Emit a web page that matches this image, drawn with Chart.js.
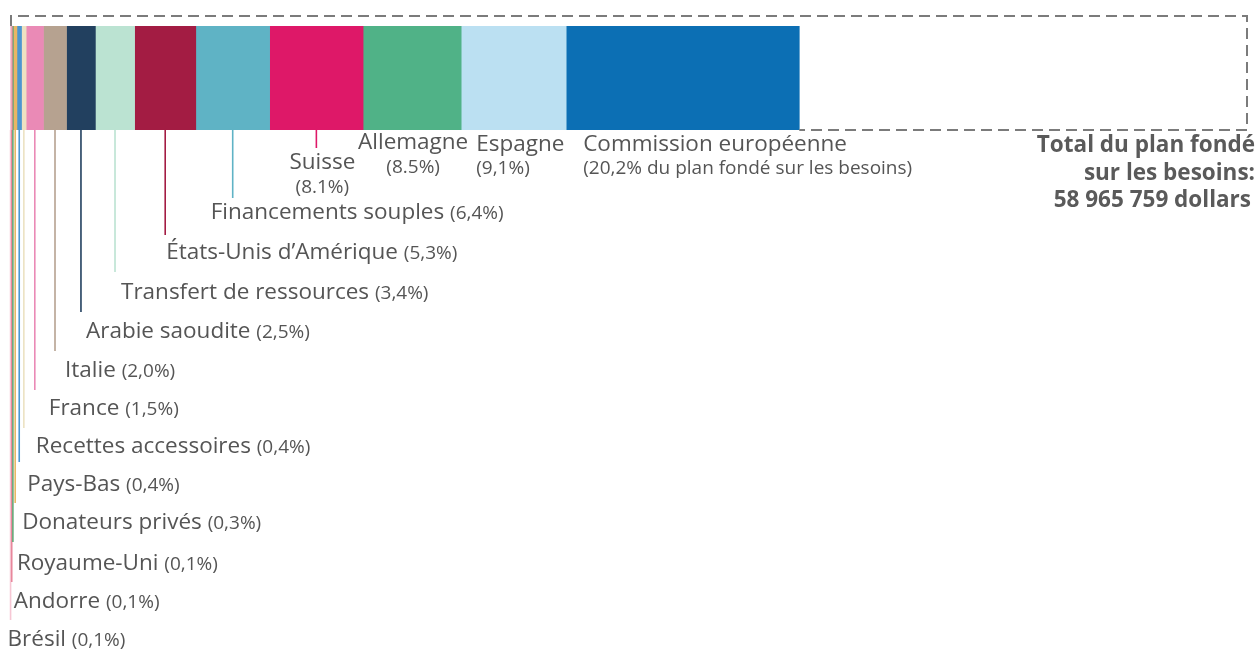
<!DOCTYPE html>
<html lang="fr">
<head>
  <meta charset="UTF-8" />
  <title>Plan fondé sur les besoins – contributions</title>
  <script src="https://cdn.jsdelivr.net/npm/chart.js"></script>
  <style>
    body {
      margin: 0;
      background-color: #fff;
      font-family: "Open Sans", sans-serif;
    }

    #wrap {
      width: 1259px;
      height: 651px;
      position: relative;
    }
  </style>
</head>
<body>
  <div id="wrap"><canvas id="myChart"></canvas></div>

  <script>
    // donors, left to right along the bar
    const donors = [
      'Brésil', 'Andorre', 'Royaume-Uni', 'Donateurs privés', 'Pays-Bas',
      'Recettes accessoires', 'France', 'Italie', 'Arabie saoudite',
      'Transfert de ressources', 'États-Unis d’Amérique', 'Financements souples',
      'Suisse', 'Allemagne', 'Espagne', 'Commission européenne'
    ];
    // share of the needs-based plan (%)
    const shares = [0.1, 0.1, 0.1, 0.3, 0.4, 0.4, 1.5, 2.0, 2.5, 3.4, 5.3, 6.4, 8.1, 8.5, 9.1, 20.2];
    const shareText = [
      '(0,1%)', '(0,1%)', '(0,1%)', '(0,3%)', '(0,4%)', '(0,4%)', '(1,5%)', '(2,0%)',
      '(2,5%)', '(3,4%)', '(5,3%)', '(6,4%)', '(8.1%)', '(8.5%)', '(9,1%)',
      '(20,2% du plan fondé sur les besoins)'
    ];
    const totalText = ['Total du plan fondé', 'sur les besoins:', '58 965 759 dollars'];

    const colors = [
      '#f6c7d4', '#e8879c', '#63a877', '#e9b764', '#4b96d0', '#ece2c2',
      '#ea8ab6', '#b6a290', '#22405f', '#bbe3d2', '#a31c43', '#5fb3c5',
      '#de1868', '#50b287', '#bbe0f2', '#0c6fb4'
    ];

    // label placement: 'step' = leader line down to a one-line label,
    // 'pin' = short line + two centred lines, 'center'/'left' = two lines under the bar
    const place = [
      { kind: 'step', lineEnd: 620, dx: -3, y: 640 },
      { kind: 'step', lineEnd: 582, dx: 2, y: 602 },
      { kind: 'step', lineEnd: 542, dx: 4, y: 564 },
      { kind: 'step', lineEnd: 503, dx: 7, y: 523 },
      { kind: 'step', lineEnd: 462, dx: 8, y: 485 },
      { kind: 'step', lineEnd: 428, dx: 12, y: 447 },
      { kind: 'step', lineEnd: 390, dx: 14, y: 409 },
      { kind: 'step', lineEnd: 351, dx: 10, y: 371 },
      { kind: 'step', lineEnd: 312, dx: 5, y: 332 },
      { kind: 'step', lineEnd: 272, dx: 6, y: 293 },
      { kind: 'step', lineEnd: 235, dx: 1, y: 253 },
      { kind: 'step', lineEnd: 198, dx: -22, y: 213 },
      { kind: 'pin', lineEnd: 148, dx: 6, y: 163 },
      { kind: 'center', dx: 1, y: 143 },
      { kind: 'left', dx: 15, y: 145 },
      { kind: 'left', dx: 17, y: 145 }
    ];

    const textColor = '#555';
    const font = 'Open Sans, sans-serif';
    const nameFont = '22.5px ' + font;
    const pctFont = '19px ' + font;

    const labelPlugin = {
      id: 'labels',
      afterDatasetsDraw(chart) {
        const ctx = chart.ctx;
        const area = chart.chartArea;
        const barBottom = area.bottom;
        ctx.save();

        // dashed outline = whole needs-based plan
        const lastBar = chart.getDatasetMeta(shares.length - 1).data[0];
        ctx.strokeStyle = '#7b7b7b';
        ctx.lineWidth = 2;
        ctx.setLineDash([11, 6]);
        ctx.beginPath();
        ctx.moveTo(area.left + 1, area.top);
        ctx.lineTo(area.left + 1, area.top - 10);
        ctx.lineTo(area.right, area.top - 10);
        ctx.lineTo(area.right, barBottom);
        ctx.lineTo(lastBar.x, barBottom);
        ctx.stroke();
        ctx.setLineDash([]);

        shares.forEach((v, i) => {
          const el = chart.getDatasetMeta(i).data[0];
          const left = Math.min(el.base, el.x);
          const mid = (el.base + el.x) / 2;
          const p = place[i];
          ctx.fillStyle = textColor;
          ctx.textBaseline = 'middle';

          if (p.kind === 'step' || p.kind === 'pin') {
            ctx.strokeStyle = colors[i];
            ctx.lineWidth = 1.6;
            ctx.beginPath();
            ctx.moveTo(mid, barBottom);
            ctx.lineTo(mid, p.lineEnd);
            ctx.stroke();
          }

          if (p.kind === 'step') {
            const x = mid + p.dx;
            ctx.textAlign = 'left';
            ctx.font = nameFont;
            ctx.fillText(donors[i], x, p.y);
            const w = ctx.measureText(donors[i] + ' ').width;
            ctx.font = pctFont;
            ctx.fillText(shareText[i], x + w, p.y + 1);
          } else if (p.kind === 'pin' || p.kind === 'center') {
            const x = mid + p.dx;
            ctx.textAlign = 'center';
            ctx.font = nameFont;
            ctx.fillText(donors[i], x, p.y);
            ctx.font = pctFont;
            ctx.fillText(shareText[i], x, p.y + 25);
          } else {
            const x = left + p.dx;
            ctx.textAlign = 'left';
            ctx.font = nameFont;
            ctx.fillText(donors[i], x, p.y);
            ctx.font = pctFont;
            ctx.fillText(shareText[i], x, p.y + 24);
          }
        });

        // total of the plan
        ctx.fillStyle = '#5a5a5a';
        ctx.textAlign = 'right';
        ctx.font = 'bold 22.5px ' + font;
        totalText.forEach((t, k) => {
          ctx.fillText(t, 1255 - (k === 2 ? 4 : 0), 146 + k * 27.5);
        });

        ctx.restore();
      }
    };

    const ctx = document.getElementById('myChart').getContext('2d');
    new Chart(ctx, {
      type: 'bar',
      data: {
        labels: ['Plan'],
        datasets: shares.map((v, i) => ({
          label: donors[i],
          data: [v],
          backgroundColor: colors[i],
          borderWidth: 0,
          barPercentage: 1,
          categoryPercentage: 1
        }))
      },
      options: {
        indexAxis: 'y',
        responsive: true,
        maintainAspectRatio: false,
        animation: false,
        layout: {
          padding: { left: 10, right: 12, top: 26, bottom: 521 }
        },
        scales: {
          x: {
            stacked: true,
            display: false,
            min: 0,
            // the outline is wider than the funded part; drawn shares stop near 64% of it
            max: 107.2
          },
          y: {
            stacked: true,
            display: false
          }
        },
        plugins: {
          legend: { display: false },
          tooltip: { enabled: false }
        }
      },
      plugins: [labelPlugin]
    });
  </script>
</body>
</html>
